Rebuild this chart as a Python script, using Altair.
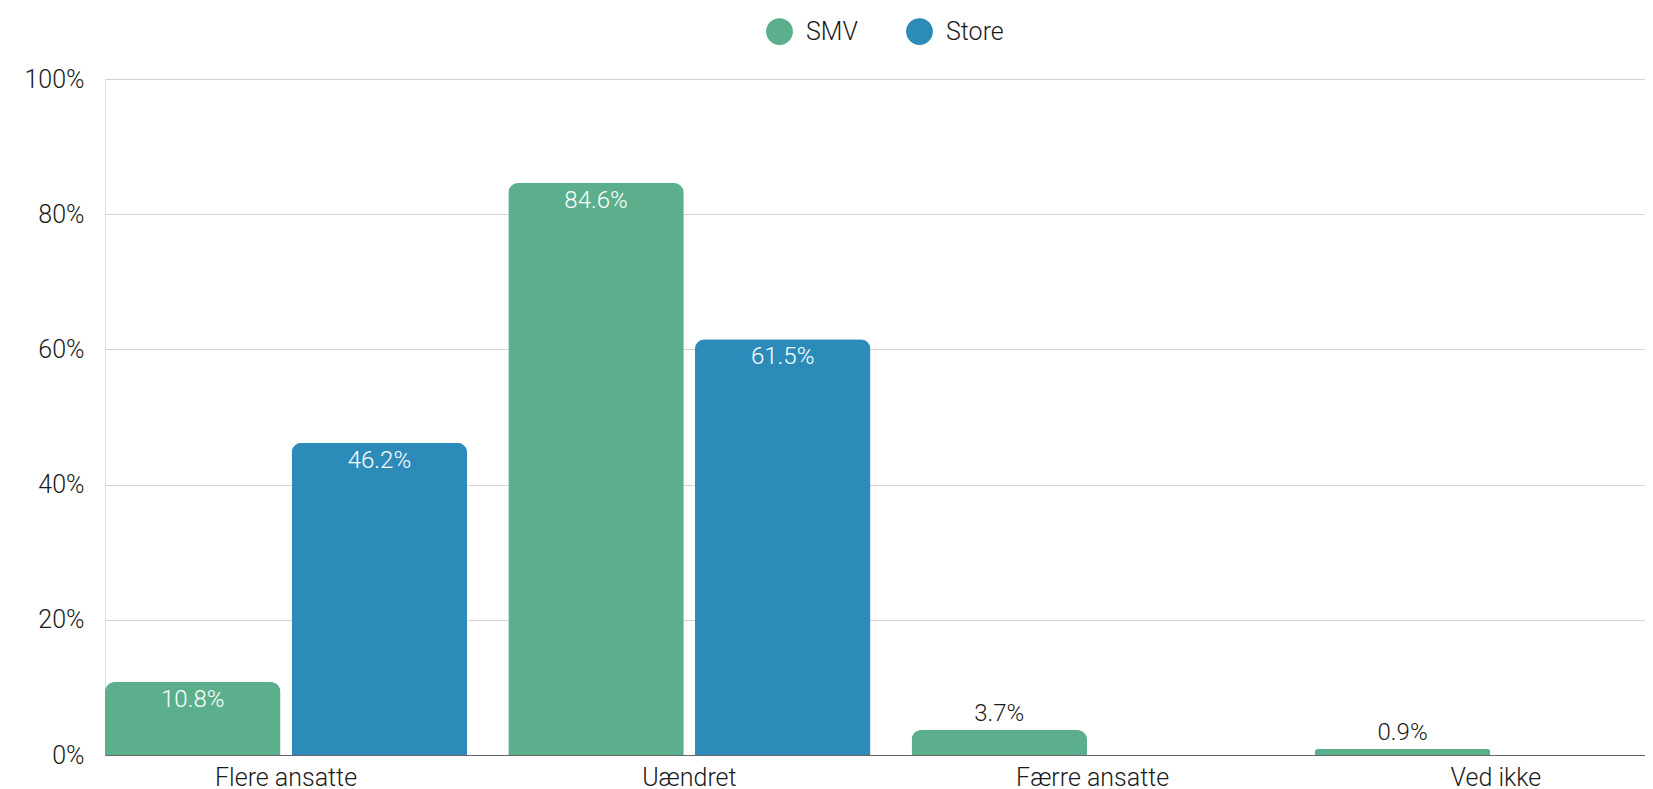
import altair as alt
import pandas as pd

categories = ["Flere ansatte", "Uændret", "Færre ansatte", "Ved ikke"]
series = ["SMV", "Store"]
smv_values = [10.8, 84.6, 3.7, 0.9]
store_values = [46.2, 61.5, 0.0, 0.0]
y_ticks = [0, 20, 40, 60, 80, 100]
colors = ["#5BAF8C", "#2D8BBA"]

rows = []
for c, a, b in zip(categories, smv_values, store_values):
    rows.append({"category": c, "series": series[0], "value": a})
    rows.append({"category": c, "series": series[1], "value": b})
df = pd.DataFrame(rows)

FONT = "Roboto"
FS = 25
FW = 300

x = alt.X("category:N", sort=categories, title=None,
          scale=alt.Scale(range=[0, 1572], paddingInner=0.102, paddingOuter=0),
          axis=alt.Axis(labelAngle=0, labelFontSize=FS, labelFont=FONT, labelFontWeight=FW,
                        labelColor="#1a1a1a", labelPadding=10, ticks=False, domain=True,
                        domainColor="#666666", domainWidth=1.2, grid=False))
y = alt.Y("value:Q", title=None,
          scale=alt.Scale(domain=[0, 100], nice=False),
          axis=alt.Axis(values=y_ticks, labelExpr="datum.value + '%'", labelFontSize=FS,
                        labelFont=FONT, labelFontWeight=FW, labelColor="#1a1a1a",
                        labelPadding=21, ticks=False, domain=False, grid=True,
                        gridColor="#d4d4d4", gridWidth=1))
xo = alt.XOffset("series:N", sort=series, scale=alt.Scale(paddingInner=0.06, paddingOuter=0))

base = alt.Chart(df).transform_calculate(
    label="format(datum.value, '.1f') + '%'"
)

bars = base.transform_filter("datum.value > 0").mark_bar(
    cornerRadiusTopLeft=10, cornerRadiusTopRight=10
).encode(
    x=x, y=y, xOffset=xo,
    color=alt.Color("series:N", sort=series,
                    scale=alt.Scale(domain=series, range=colors),
                    legend=alt.Legend(title=None, orient="none", direction="horizontal",
                                      legendX=661, legendY=-61, symbolType="circle",
                                      symbolSize=720, symbolStrokeWidth=0, labelFontSize=FS,
                                      labelFont=FONT, labelFontWeight=FW, labelColor="#1a1a1a",
                                      labelOffset=13, columnPadding=48, padding=0)),
)

inside = base.transform_filter("datum.value >= 5").mark_text(
    baseline="middle", dy=18, fontSize=24, font=FONT, fontWeight=FW, color="white"
).encode(x=x, y=y, xOffset=xo, text="label:N")

outside = base.transform_filter("datum.value > 0 && datum.value < 5").mark_text(
    baseline="middle", dy=-16, fontSize=24, font=FONT, fontWeight=FW, color="#1a1a1a"
).encode(x=x, y=y, xOffset=xo, text="label:N")

chart = alt.layer(bars, inside, outside).properties(
    width=1540, height=676,
    autosize=alt.AutoSizeParams(type="none"),
    padding={"left": 97, "top": 71, "right": 0, "bottom": 34},
).configure_view(stroke=None).configure(font=FONT)

chart.save("out.html", embed_options={"renderer": "svg", "actions": False})
